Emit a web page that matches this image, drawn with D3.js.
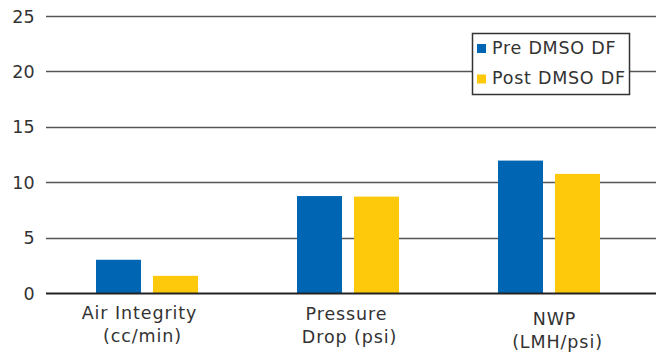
<!DOCTYPE html>
<meta charset="utf-8">
<style>
    body { margin: 0; background: #fff; }
    svg text { font-family: "DejaVu Sans", Verdana, sans-serif; fill: #333; letter-spacing: 0.9px; }
    .grid line { stroke: #555; stroke-width: 1.5px; }
    .tick-label { font-size: 17.5px; text-anchor: end; letter-spacing: 0.3px; }
    .cat-label { font-size: 17.5px; text-anchor: middle; }
    .legend text { font-size: 17.5px; letter-spacing: 0.75px; }
</style>
<svg></svg>
<script src="https://cdn.jsdelivr.net/npm/d3@7"></script>
<script>
    var width = 658,
        height = 356;

    // data
    var categories = [["Air Integrity", "(cc/min)"], ["Pressure", "Drop (psi)"], ["NWP", "(LMH/psi)"]];
    var seriesNames = ["Pre DMSO DF", "Post DMSO DF"];
    var preValues = [3.0, 8.75, 11.95];
    var postValues = [1.55, 8.7, 10.75];
    var yTicks = [0, 5, 10, 15, 20, 25];
    var colors = ["#0066b3", "#ffc90b"];

    var margin = {left: 46, right: 2, top: 16, bottom: 63};

    var svg = d3.select("svg")
        .attr("width", width)
        .attr("height", height);

    var x = d3.scaleBand()
        .domain(d3.range(categories.length))
        .range([47, 650]);

    var x1 = d3.scaleBand()
        .domain(d3.range(seriesNames.length))
        .range([49, 151])
        .paddingInner(12 / 57);

    var y = d3.scaleLinear()
        .domain([0, 25])
        .range([height - margin.bottom, margin.top]);

    // gridlines
    var grid = svg.append("g").attr("class", "grid");
    grid.selectAll("line")
        .data(yTicks.filter(function(d) { return d > 0; }))
        .enter().append("line")
        .attr("x1", margin.left)
        .attr("x2", width - margin.right)
        .attr("y1", function(d) { return Math.round(y(d)) + 0.5; })
        .attr("y2", function(d) { return Math.round(y(d)) + 0.5; });

    svg.selectAll(".tick-label")
        .data(yTicks)
        .enter().append("text")
        .attr("class", "tick-label")
        .attr("x", 35)
        .attr("y", function(d) { return y(d) + 6.5; })
        .text(function(d) { return d; });

    // bars
    var rows = categories.map(function(c, i) { return [preValues[i], postValues[i]]; });
    var groups = svg.selectAll(".group")
        .data(rows)
        .enter().append("g")
        .attr("transform", function(d, i) { return "translate(" + x(i) + ",0)"; });

    groups.selectAll("rect")
        .data(function(d) { return d; })
        .enter().append("rect")
        .attr("x", function(d, j) { return x1(j); })
        .attr("width", x1.bandwidth())
        .attr("y", function(d) { return y(d); })
        .attr("height", function(d) { return y(0) - y(d); })
        .attr("fill", function(d, j) { return colors[j]; });

    // zero axis
    svg.append("line")
        .attr("x1", margin.left)
        .attr("x2", width - margin.right)
        .attr("y1", y(0) + 0.5)
        .attr("y2", y(0) + 0.5)
        .attr("stroke", "#222")
        .attr("stroke-width", 2.2);

    // category labels
    var labelDy = [0, 1, 6];
    var labelDx = [-8, -2, 5];
    categories.forEach(function(lines, i) {
        var cx = x(i) + x.bandwidth() / 2 + labelDx[i];
        var t = svg.append("text")
            .attr("class", "cat-label")
            .attr("x", cx)
            .attr("y", 319 + labelDy[i]);
        lines.forEach(function(line, k) {
            t.append("tspan")
                .attr("x", cx + (k === 0 ? 0 : 3))
                .attr("dy", k === 0 ? 0 : 22.5)
                .text(line);
        });
    });

    // legend
    var legend = svg.append("g").attr("class", "legend");
    legend.append("rect")
        .attr("x", 472.5)
        .attr("y", 33.5)
        .attr("width", 157)
        .attr("height", 61)
        .attr("fill", "#fff")
        .attr("stroke", "#333")
        .attr("stroke-width", 1.5);

    var items = legend.selectAll(".item")
        .data(seriesNames)
        .enter().append("g")
        .attr("transform", function(d, i) { return "translate(477," + (44 + i * 30.5) + ")"; });

    items.append("rect")
        .attr("width", 9)
        .attr("height", 9)
        .attr("fill", function(d, i) { return colors[i]; });

    items.append("text")
        .attr("x", 15)
        .attr("y", 9.5)
        .text(function(d) { return d; });
</script>
